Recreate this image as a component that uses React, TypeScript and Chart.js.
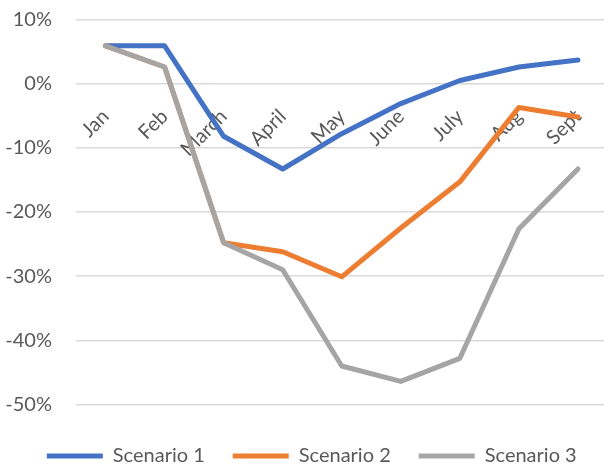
import React, { useEffect, useRef } from "react";
import { Chart, registerables } from "chart.js";

Chart.register(...registerables);

const categories = ["Jan", "Feb", "March", "April", "May", "June", "July", "Aug", "Sept"];
const scenario1 = [5.9, 5.9, -8.2, -13.3, -7.8, -3.1, 0.5, 2.6, 3.7];
const scenario2 = [5.9, 2.6, -24.8, -26.2, -30.1, -22.5, -15.3, -3.7, -5.2];
const scenario3 = [5.9, 2.6, -24.8, -29.0, -44.0, -46.4, -42.8, -22.6, -13.3];
const seriesNames = ["Scenario 1", "Scenario 2", "Scenario 3"];
const seriesColors = ["#4472C4", "#ED7D31", "#A5A5A5"];
const yMin = -50;
const yMax = 10;
const yStep = 10;

const FONT = "Lato";
const TEXT = "#595959";
const LEGEND_SHIFT = 8;

const legendShift = {
  id: "legendShift",
  afterLayout(chart: any) {
    if (chart.legend) {
      chart.legend.left += LEGEND_SHIFT;
      chart.legend.right += LEGEND_SHIFT;
    }
  },
};

export default function App() {
  const ref = useRef<HTMLCanvasElement | null>(null);

  useEffect(() => {
    const canvas = ref.current;
    if (!canvas) return;
    const values = [scenario1, scenario2, scenario3];
    const orders = [3, 2, 1];
    const chart = new Chart(canvas, {
      type: "line",
      data: {
        labels: categories,
        datasets: values.map((d, i) => ({
          label: seriesNames[i],
          data: d,
          borderColor: seriesColors[i],
          backgroundColor: seriesColors[i],
          borderWidth: 5,
          pointRadius: 0,
          pointHoverRadius: 0,
          tension: 0,
          borderCapStyle: "round" as const,
          borderJoinStyle: "round" as const,
          fill: false,
          order: orders[i],
        })),
      },
      plugins: [legendShift],
      options: {
        responsive: false,
        animation: false,
        layout: { padding: { left: 0, right: 4.5, top: 19.5, bottom: -7 } },
        plugins: {
          tooltip: { enabled: false },
          legend: {
            position: "bottom",
            labels: {
              usePointStyle: true,
              pointStyle: "line",
              pointStyleWidth: 56,
              font: { family: FONT, size: 20 },
              color: TEXT,
              padding: 28,
              sort: (a: any, b: any) => a.datasetIndex - b.datasetIndex,
            },
          },
        },
        scales: {
          x: {
            type: "category",
            position: { y: 0 } as any,
            offset: true,
            grid: { display: false },
            border: { display: false },
            ticks: {
              autoSkip: false,
              minRotation: 45,
              maxRotation: 45,
              padding: 13,
              color: TEXT,
              font: { family: FONT, size: 20 },
            },
            afterFit: (s: any) => {
              s.paddingLeft = 0;
              s.paddingRight = 0;
              s.paddingTop = 0;
              s.paddingBottom = 0;
            },
          },
          spacer: {
            type: "category",
            position: "bottom",
            labels: [""],
            grid: { display: false },
            border: { display: false },
            ticks: { display: false },
            afterFit: (s: any) => {
              s.height = 13.5;
            },
          },
          y: {
            type: "linear",
            min: yMin,
            max: yMax,
            grid: { color: "#D9D9D9", lineWidth: 1.5, drawTicks: false },
            border: { display: false },
            ticks: {
              stepSize: yStep,
              padding: 24,
              color: TEXT,
              font: { family: FONT, size: 20 },
              callback: (v: any) => `${v}%`,
            },
            afterFit: (s: any) => {
              s.width = 76;
              s.paddingTop = 0;
              s.paddingBottom = 0;
            },
          },
        },
      },
    });
    return () => chart.destroy();
  }, []);

  return (
    <div
      style={{
        position: "fixed",
        left: 0,
        top: 0,
        width: 604,
        height: 469,
        overflow: "hidden",
        background: "#fff",
      }}
    >
      <canvas ref={ref} width={612} height={469} style={{ display: "block" }} />
    </div>
  );
}
